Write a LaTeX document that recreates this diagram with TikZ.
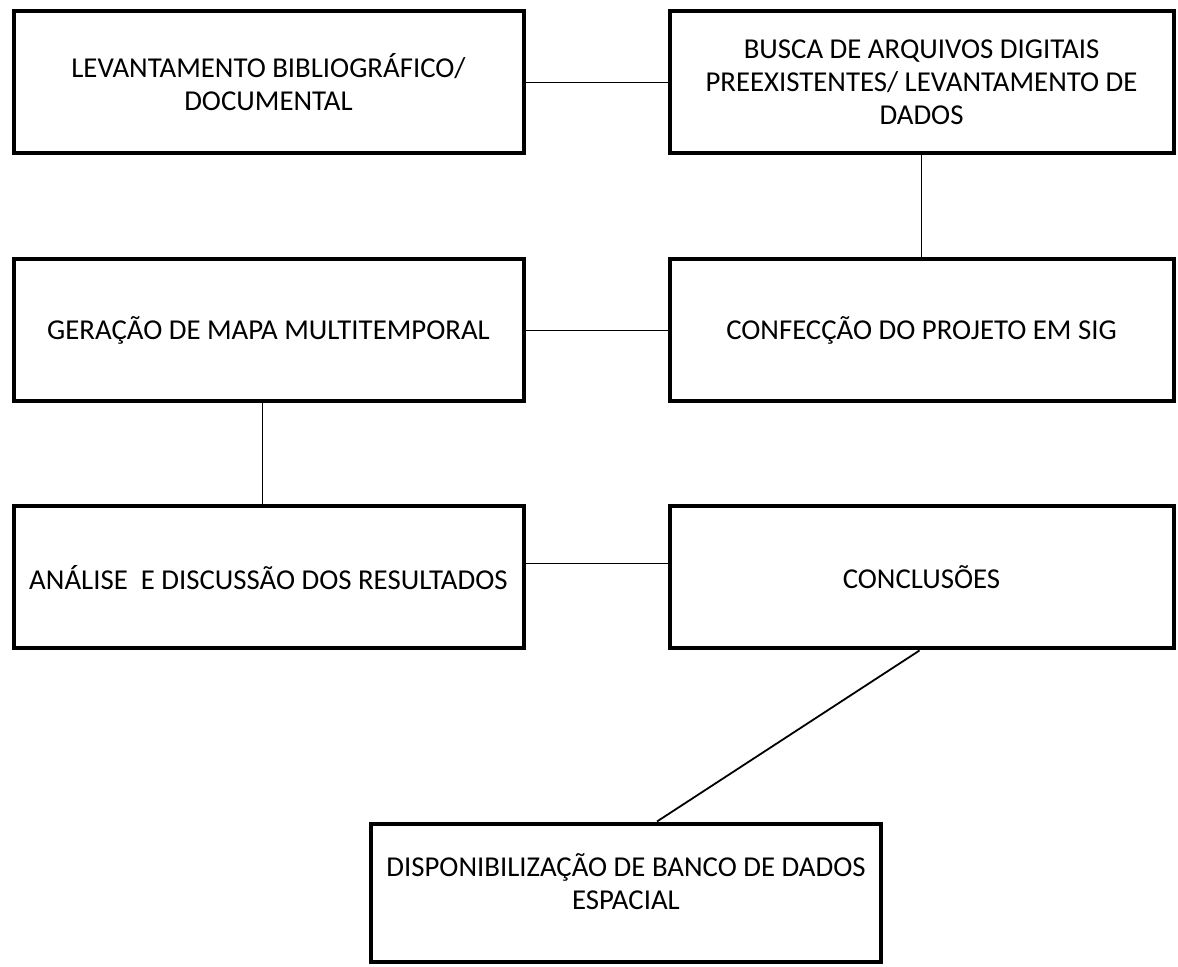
\documentclass[tikz,border=0pt]{standalone}
\usepackage{fontspec}
\setmainfont{Carlito}

\begin{document}
\begin{tikzpicture}[x=0.5pt,y=-0.5pt,
    etapa/.style={draw,line width=2pt,minimum width=255pt,minimum height=71pt,
      align=center,font=\fontsize{14.4}{16.5}\selectfont,inner sep=0pt},
    liga/.style={line width=0.9pt}]
    \useasboundingbox (0,0) rectangle (1178,967);

    \node[etapa] (levant) at (268.5,82.5) {LEVANTAMENTO BIBLIOGRÁFICO/\\DOCUMENTAL};
    \node[etapa,minimum width=252pt] (busca) at (921.5,82.5)
    {BUSCA DE ARQUIVOS DIGITAIS\\PREEXISTENTES/ LEVANTAMENTO DE\\DADOS};
    \node[etapa] (mapa) at (268.5,330.5) {GERAÇÃO DE MAPA MULTITEMPORAL};
    \node[etapa,minimum width=252pt] (sig) at (921.5,330.5) {CONFECÇÃO DO PROJETO EM SIG};
    \node[etapa] (analise) at (268.5,577.5) {ANÁLISE~~E DISCUSSÃO DOS RESULTADOS};
    \node[etapa,minimum width=252pt] (concl) at (921.5,577.5) {CONCLUSÕES};
    \node[etapa,minimum height=69pt,text depth=11pt] (banco) at (626,892.5)
    {DISPONIBILIZAÇÃO DE BANCO DE DADOS\\ESPACIAL};

    \draw[liga] (levant.east) -- (busca.west);
    \draw[liga] (busca.south) -- (sig.north);
    \draw[liga] (mapa.east) -- (sig.west);
    \draw[liga] ([xshift=-3pt]mapa.south) -- ([xshift=-3pt]analise.north);
    \draw[liga] ([yshift=7pt]analise.east) -- ([yshift=7pt]concl.west);
    \draw[liga] ([xshift=-1pt]concl.south) -- ([xshift=15.5pt]banco.north);
  \end{tikzpicture}
\end{document}
